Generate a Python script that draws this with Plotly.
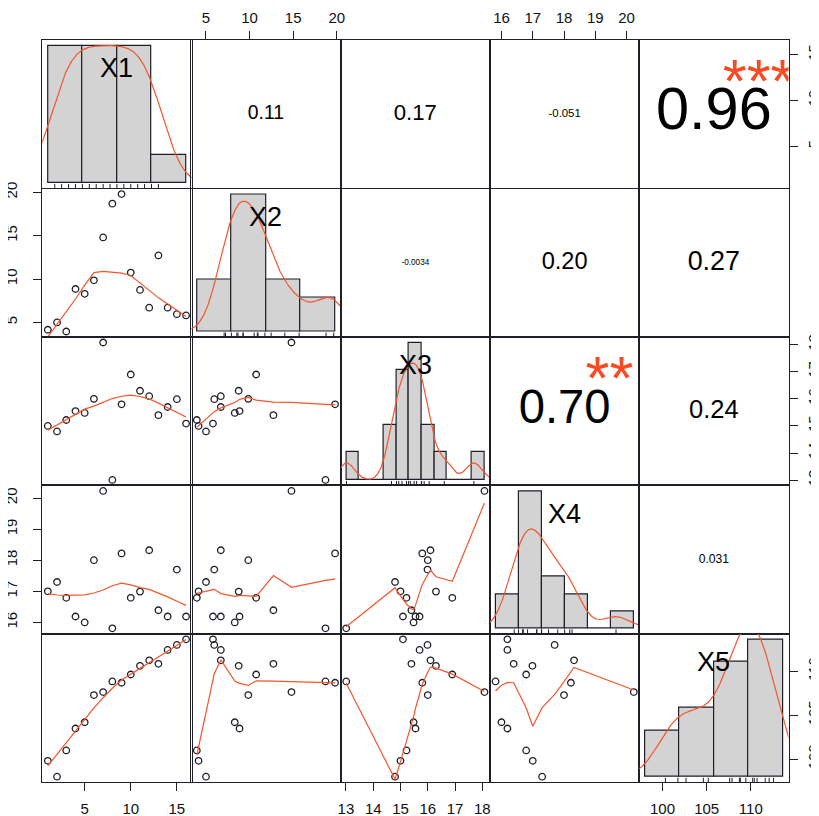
import numpy as np
import plotly.graph_objects as go

# ---------------- data ----------------
var_names = ["X1", "X2", "X3", "X4", "X5"]
X1 = list(range(1, 17))
X2 = [4.15, 5.0, 3.95, 8.85, 8.3, 9.85, 14.8, 18.7, 19.8, 10.75, 8.75, 6.7, 12.73, 6.7, 5.95, 5.8]
X3 = [15.0, 14.8, 15.22, 15.55, 15.48, 16.0, 18.08, 13.01, 15.8, 16.9, 16.3, 16.1, 15.4, 15.7, 15.99, 15.09]
X4 = [17.0, 17.3, 16.79, 16.19, 16.0, 18.0, 20.23, 15.81, 18.22, 16.79, 16.99, 18.32, 16.39, 16.19, 17.7, 16.19]
X5 = [99.8, 97.99, 100.98, 103.48, 104.19, 107.29, 107.63, 108.84, 108.69, 109.63, 110.62, 111.25, 110.85, 112.43, 113.0, 113.64]

breaks_X1 = [0, 5, 10, 15, 20]
breaks_X2 = [0, 5, 10, 15, 20]
breaks_X3 = [13.0, 13.5, 14.0, 14.5, 15.0, 15.5, 16.0, 16.5, 17.0, 17.5, 18.0, 18.5]
breaks_X4 = [15, 16, 17, 18, 19, 20, 21]
breaks_X5 = [95, 100, 105, 110, 115]

ticks_X1 = [5, 10, 15]
ticks_X2 = [5, 10, 15, 20]
ticks_X3 = [13, 14, 15, 16, 17, 18]
ticks_X4 = [16, 17, 18, 19, 20]
ticks_X5 = [100, 105, 110]

cor_pairs = [(0, 1), (0, 2), (0, 3), (0, 4), (1, 2), (1, 3), (1, 4), (2, 3), (2, 4), (3, 4)]
cor_values = [0.11, 0.17, -0.051, 0.96, -0.0034, 0.20, 0.27, 0.70, 0.24, 0.031]
cor_labels = ["0.11", "0.17", "-0.051", "0.96", "-0.0034", "0.20", "0.27", "0.70", "0.24", "0.031"]
cor_stars = ["", "", "", "***", "", "", "", "**", "", ""]

data = [np.array(v, dtype=float) for v in (X1, X2, X3, X4, X5)]
breaks = [np.array(b, dtype=float) for b in (breaks_X1, breaks_X2, breaks_X3, breaks_X4, breaks_X5)]
ticks = [ticks_X1, ticks_X2, ticks_X3, ticks_X4, ticks_X5]

# ---------------- styles ----------------
FONT = "Liberation Sans, Arial, sans-serif"
INK = "#1f1f2a"
RED = "#f5552b"
STAR = "#fa4a22"
HISTFILL = "#d3d3d3"

W, H = 819, 816
PAGE_OFF = 8  # default body margin of the html page
col_left = [42.3, 191.3, 340.7, 490.0, 639.2]
panel_w = 149.3
row_top = [40.0, 188.6, 337.0, 485.4, 633.8]
panel_h = 148.4


def xdom(j):
    a = col_left[j] - PAGE_OFF
    return [a / W, (a + panel_w) / W]


def ydom(i):
    t = row_top[i] - PAGE_OFF
    return [1 - (t + panel_h) / H, 1 - t / H]


def aid(k):
    return "" if k == 1 else str(k)


def rrange(v):
    lo, hi = float(np.min(v)), float(np.max(v))
    d = hi - lo
    return [lo - 0.04 * d, hi + 0.04 * d]


# ---------------- R lowess ----------------
def _lowest(x, y, n, xs, nleft, nright, w, userw, rw):
    rng = x[n - 1] - x[0]
    h = max(xs - x[nleft], x[nright] - xs)
    h9 = 0.999 * h
    h1 = 0.001 * h
    a = 0.0
    j = nleft
    while j < n:
        w[j] = 0.0
        r = abs(x[j] - xs)
        if r <= h9:
            if r <= h1:
                w[j] = 1.0
            else:
                w[j] = (1 - (r / h) ** 3) ** 3
            if userw:
                w[j] *= rw[j]
            a += w[j]
        elif x[j] > xs:
            break
        j += 1
    nrt = j - 1
    if a <= 0:
        return 0.0, False
    for k in range(nleft, nrt + 1):
        w[k] /= a
    if h > 0:
        a = sum(w[k] * x[k] for k in range(nleft, nrt + 1))
        b = xs - a
        c = sum(w[k] * (x[k] - a) ** 2 for k in range(nleft, nrt + 1))
        if np.sqrt(c) > 0.001 * rng:
            b /= c
            for k in range(nleft, nrt + 1):
                w[k] *= (b * (x[k] - a) + 1.0)
    ys = sum(w[k] * y[k] for k in range(nleft, nrt + 1))
    return ys, True


def lowess(xv, yv, f=2 / 3, nsteps=3):
    o = np.argsort(xv, kind="stable")
    x = np.asarray(xv, float)[o]
    y = np.asarray(yv, float)[o]
    n = len(x)
    delta = 0.01 * (x[-1] - x[0])
    ns = max(2, min(n, int(f * n + 1e-7)))
    ys = np.zeros(n)
    rw = np.zeros(n)
    res = np.zeros(n)
    it = 1
    while it <= nsteps + 1:
        nleft, nright, last, i = 0, ns - 1, -1, 0
        while True:
            if nright < n - 1:
                d1 = x[i] - x[nleft]
                d2 = x[nright + 1] - x[i]
                if d1 > d2:
                    nleft += 1
                    nright += 1
                    continue
            val, ok = _lowest(x, y, n, x[i], nleft, nright, res, it > 1, rw)
            ys[i] = val if ok else y[i]
            if last < i - 1:
                denom = x[i] - x[last]
                for j in range(last + 1, i):
                    alpha = (x[j] - x[last]) / denom
                    ys[j] = alpha * ys[i] + (1 - alpha) * ys[last]
            last = i
            cut = x[last] + delta
            i = last + 1
            while i < n:
                if x[i] > cut:
                    break
                if x[i] == x[last]:
                    ys[i] = ys[last]
                    last = i
                i += 1
            i = max(last + 1, i - 1)
            if last >= n - 1:
                break
        res = y - ys
        sc = np.sum(np.abs(res)) / n
        if it > nsteps:
            break
        rw = np.abs(res)
        srt = np.sort(rw)
        m1 = n // 2
        if n % 2 == 0:
            m2 = n - m1 - 1
            cmad = 3 * (srt[m1] + srt[m2])
        else:
            cmad = 6 * srt[m1]
        if cmad < 1e-7 * sc:
            break
        c9, c1 = 0.999 * cmad, 0.001 * cmad
        for k in range(n):
            r = abs(res[k])
            if r <= c1:
                rw[k] = 1.0
            elif r <= c9:
                rw[k] = (1 - (r / cmad) ** 2) ** 2
            else:
                rw[k] = 0.0
        res = np.zeros(n)
        it += 1
    return x, ys


# ---------------- density (bw.nrd0) ----------------
def kde(v):
    v = np.asarray(v, float)
    n = len(v)
    hi = np.std(v, ddof=1)
    iqr = np.percentile(v, 75) - np.percentile(v, 25)
    lo = min(hi, iqr / 1.34)
    if lo <= 0:
        lo = hi
    bw = 0.9 * lo * n ** (-0.2)
    gx = np.linspace(v.min() - 3 * bw, v.max() + 3 * bw, 512)
    gy = np.exp(-0.5 * ((gx[:, None] - v[None, :]) / bw) ** 2).sum(axis=1) / (n * bw * np.sqrt(2 * np.pi))
    return gx, gy


def rhist(v, b):
    idx = np.searchsorted(b, v, side="left") - 1
    idx = np.clip(idx, 0, len(b) - 2)
    counts = np.bincount(idx, minlength=len(b) - 1)
    return counts / (len(v) * np.diff(b))


def em_width(s):
    w = 0.0
    for c in s:
        if c.isdigit():
            w += 0.556
        elif c == ".":
            w += 0.278
        elif c == "-":
            w += 0.333
        else:
            w += 0.5
    return w


fig = go.Figure()
layout = {}
annotations = []
nvar = 5
ranges = [rrange(d) for d in data]
tickfont = dict(family=FONT, size=15, color="#111")
next_axis = [nvar * nvar + 1]


def new_overlay(k, xr, yr):
    """hidden axes overlaid on panel k (like par(new=TRUE)/par(usr=...) in R)"""
    m = next_axis[0]
    next_axis[0] += 1
    layout[f"xaxis{m}"] = dict(overlaying=f"x{aid(k)}", range=xr, visible=False, fixedrange=True,
                               automargin=False)
    layout[f"yaxis{m}"] = dict(overlaying=f"y{aid(k)}", range=yr, visible=False, fixedrange=True,
                               automargin=False)
    return f"x{m}", f"y{m}"


for i in range(nvar):
    for j in range(nvar):
        k = i * nvar + j + 1
        xa, ya = f"x{aid(k)}", f"y{aid(k)}"
        xaxis = dict(domain=xdom(j), anchor=ya, range=ranges[j], showgrid=False, zeroline=False,
                     showline=True, mirror=True, linecolor=INK, linewidth=1.2, showticklabels=False,
                     ticks="", fixedrange=True, automargin=False)
        yaxis = dict(domain=ydom(i), anchor=xa, range=ranges[i], showgrid=False, zeroline=False,
                     showline=True, mirror=True, linecolor=INK, linewidth=1.2, showticklabels=False,
                     ticks="", fixedrange=True, automargin=False)
        common = dict(showticklabels=True, ticks="outside", ticklen=8, tickwidth=1, tickcolor=INK,
                      tickfont=tickfont)
        # outer axes, alternating like R pairs()
        if i == nvar - 1 and j % 2 == 0:
            xaxis.update(side="bottom", tickvals=ticks[j], ticktext=[str(t) for t in ticks[j]],
                         ticklabelstandoff=5, **common)
        if i == 0 and j % 2 == 1:
            xaxis.update(side="top", tickvals=ticks[j], ticktext=[str(t) for t in ticks[j]],
                         ticklabelstandoff=2, **common)
        if j == 0 and i % 2 == 1:
            yaxis.update(side="left", tickvals=ticks[i], ticktext=[str(t) for t in ticks[i]],
                         tickangle=-90, ticklabelstandoff=10, **common)
        if j == nvar - 1 and i % 2 == 0:
            yaxis.update(side="right", tickvals=ticks[i], ticktext=[str(t) for t in ticks[i]],
                         tickangle=-90, ticklabelstandoff=3, **common)
        layout[f"xaxis{aid(k)}"] = xaxis
        layout[f"yaxis{aid(k)}"] = yaxis
        fig.add_trace(go.Scatter(x=[], y=[], xaxis=xa, yaxis=ya, showlegend=False, hoverinfo="skip"))

        if i > j:
            xs, ys = data[j], data[i]
            fig.add_trace(go.Scatter(x=xs, y=ys, mode="markers", xaxis=xa, yaxis=ya, showlegend=False,
                                     marker=dict(symbol="circle-open", size=6.5, color=INK,
                                                 line=dict(width=1.3, color=INK))))
            lx, ly = lowess(xs, ys)
            fig.add_trace(go.Scatter(x=lx, y=ly, mode="lines", xaxis=xa, yaxis=ya, showlegend=False,
                                     line=dict(color=RED, width=1.2)))
        elif i == j:
            b = breaks[i]
            dens = rhist(data[i], b)
            M = dens.max()
            bspan = b[-1] - b[0]
            hx, hy = new_overlay(k, [b[0] - 0.04 * bspan, b[-1] + 0.04 * bspan], [-0.04 * M, 1.04 * M])
            centers = (b[:-1] + b[1:]) / 2
            fig.add_trace(go.Bar(x=centers, y=dens, width=np.diff(b), xaxis=hx, yaxis=hy, showlegend=False,
                                 marker=dict(color=HISTFILL, line=dict(color=INK, width=1.2))))
            gx, gy = kde(data[i])
            fig.add_trace(go.Scatter(x=gx, y=gy, mode="lines", xaxis=hx, yaxis=hy, showlegend=False,
                                     line=dict(color=RED, width=1.2)))
            y0 = -0.04 * M
            tl = 0.03 * 1.08 * M
            rx, ry = [], []
            for v in data[i]:
                rx += [v, v, None]
                ry += [y0, y0 + tl, None]
            fig.add_trace(go.Scatter(x=rx, y=ry, mode="lines", xaxis=hx, yaxis=hy, showlegend=False,
                                     line=dict(color=INK, width=1)))
            annotations.append(dict(text=var_names[i], xref=f"{xa} domain", yref=f"{ya} domain",
                                    x=0.5, y=0.81, showarrow=False, xanchor="center", yanchor="middle",
                                    font=dict(family=FONT, size=27, color="#000")))

# correlation texts in the upper panels, on hidden 0..1 axes (clipped to the panel)
for (i, j), r, lab, st in zip(cor_pairs, cor_values, cor_labels, cor_stars):
    k = i * nvar + j + 1
    ux, uy = new_overlay(k, [0, 1], [0, 1])
    base = 0.8 * panel_w / em_width(lab)
    size = base * (abs(r) + 0.3) / 1.3
    fig.add_trace(go.Scatter(x=[0.5], y=[0.5], mode="text", text=[lab], textposition="middle center",
                             xaxis=ux, yaxis=uy, showlegend=False, cliponaxis=True, hoverinfo="skip",
                             textfont=dict(family=FONT, size=size, color="#000")))
    if st:
        ystar = 0.8 - (0.225 * base + 3.0) / panel_h
        fig.add_trace(go.Scatter(x=[0.8], y=[ystar], mode="text", text=[st], textposition="middle center",
                                 xaxis=ux, yaxis=uy, showlegend=False, cliponaxis=True, hoverinfo="skip",
                                 textfont=dict(family=FONT, size=base, color=STAR)))

fig.update_layout(**layout)
fig.update_layout(width=W, height=H, margin=dict(l=0, r=0, t=0, b=0, pad=0, autoexpand=False),
                  paper_bgcolor="white", plot_bgcolor="rgba(0,0,0,0)",
                  showlegend=False, annotations=annotations, bargap=0, barmode="overlay")

fig.write_html("out.html")
